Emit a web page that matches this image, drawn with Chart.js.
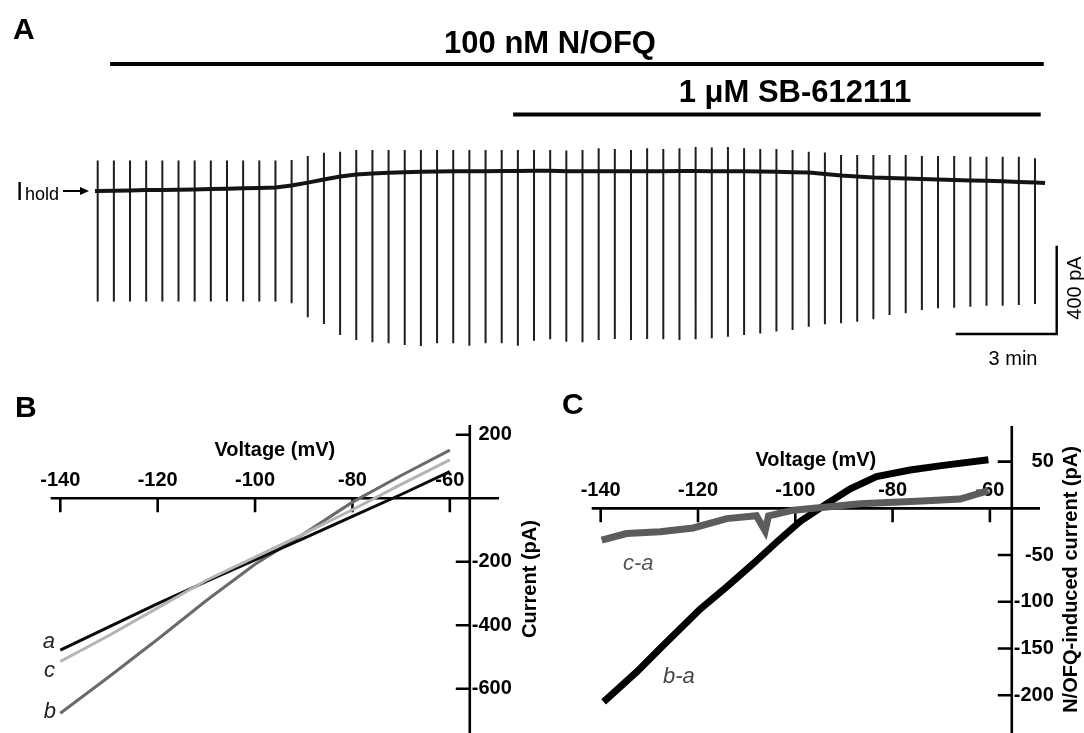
<!DOCTYPE html>
<html>
<head>
<meta charset="utf-8">
<script src="https://cdn.jsdelivr.net/npm/chart.js@4.4.1/dist/chart.umd.min.js"></script>
<style>
html,body{margin:0;padding:0;background:#ffffff;}
#wrap{position:relative;width:1084px;height:733px;overflow:hidden;background:#ffffff;}
#wrap canvas{position:absolute;left:0;top:0;}
</style>
</head>
<body>
<div id="wrap">
<canvas id="cA" width="1084" height="733"></canvas>
<canvas id="cB" width="1084" height="733"></canvas>
<canvas id="cC" width="1084" height="733"></canvas>
</div>
<script>
// ---------------- DATA: panel A (holding-current trace with voltage-ramp sweeps) ----------------
// sweep onset times (min)
const sweepTimes = [0.00,0.48,0.96,1.44,1.92,2.40,2.88,3.36,3.84,4.32,4.80,5.28,5.76,6.24,6.72,7.20,7.68,8.16,8.64,9.12,9.60,10.08,10.56,11.04,11.52,12.00,12.48,12.96,13.44,13.92,14.40,14.88,15.36,15.84,16.32,16.80,17.28,17.76,18.24,18.72,19.20,19.68,20.16,20.64,21.12,21.60,22.08,22.56,23.04,23.52,24.00,24.48,24.96,25.44,25.92,26.40,26.88,27.36,27.84];
// holding current relative to start (pA) at each sweep
const holdCurrent = [0,1,2,4,5,6,7,9,10,12,14,16,25,38,52,66,75,79,83,85,87,88,89,90,90,91,91,92,92,90,90,89,89,89,90,90,91,91,90,90,89,88,87,85,84,77,70,66,61,59,57,54,52,50,48,46,44,41,38];
// upward tip of each ramp sweep (pA)
const rampPeak = [138,138,138,138,138,138,138,138,138,138,138,138,140,159,173,178,186,186,186,186,186,186,186,186,186,186,186,186,186,183,186,194,190,186,194,190,194,199,197,199,194,190,190,186,178,174,163,163,163,163,163,158,158,158,155,155,155,155,148];
// downward tip of each ramp sweep (pA)
const rampTrough = [-500,-500,-500,-500,-500,-500,-500,-500,-500,-500,-500,-500,-509,-572,-602,-652,-675,-685,-690,-698,-702,-690,-690,-701,-690,-690,-701,-678,-672,-683,-685,-675,-670,-675,-670,-672,-675,-672,-667,-660,-652,-645,-637,-630,-615,-604,-599,-592,-581,-562,-554,-539,-531,-529,-524,-520,-520,-516,-512];
const traceStartTime = -0.08, traceEndTime = 28.14;
const traceStartCurrent = 0, traceEndCurrent = 36;
const nofqPeriod = [0.37, 28.10];      // min
const sbPeriod = [12.34, 28.01];       // min
const scaleBarMinutes = 3;
const scaleBarPA = 400;
const sweepLabels = ['a', 'b', 'c'];
const sweepLabelIndex = [0, 24, 57];

// ---------------- DATA: panel B (I-V relations) ----------------
const ivVoltage = [-140,-130,-120,-110,-100,-90,-80,-70,-60];
const ivCurrentA = [-478,-405,-332,-262,-194,-126,-57,12,84];
const ivCurrentB = [-677,-562,-444,-322,-208,-112,-12,72,152];
const ivCurrentC = [-514,-432,-345,-258,-185,-112,-36,44,121];
const ivVoltTicks = [-140,-120,-100,-80,-60];
const ivCurrentTicks = [200,-200,-400,-600];

// ---------------- DATA: panel C (N/OFQ-induced current) ----------------
const diffVoltageBA = [-139.4,-132.6,-127.8,-122.3,-119.6,-114.1,-108.6,-103.8,-99,-93.5,-88.7,-83.3,-76.4,-69.6,-60.3];
const diffCurrentBA = [-207,-175,-150,-122,-108,-84,-59,-36,-14,5,21,34,41,46,52];
const diffVoltageCA = [-139.8,-134.7,-127.8,-121,-114.1,-108,-106.2,-105.5,-100.4,-93.5,-86.7,-79.8,-72.9,-66.1,-60.3];
const diffCurrentCA = [-34,-27,-25,-21,-11,-8,-24,-8,-2,1.5,5,6.5,8,10,19];
const diffVoltTicks = [-140,-120,-100,-80,-60];
const diffCurrentTicks = [50,-50,-100,-150,-200];

// ---------------- layout / style ----------------
const FONT = '"Liberation Sans", Arial, Helvetica, sans-serif';
const layoutA = { nofqBarLevel: 575, sbBarLevel: 347, barCornerTime: 28.485, barCornerPA: -648 };

Chart.defaults.font.family = FONT;

function xy(xs, ys) { return xs.map((v, i) => ({ x: v, y: ys[i] })); }

// generic text plugin (page coordinates)
const textPlugin = {
  id: 'texts',
  afterDraw(chart, args, o) {
    if (!o || !o.items) return;
    const ctx = chart.ctx;
    ctx.save();
    o.items.forEach(t => {
      const it = typeof t === 'function' ? t(chart) : t;
      ctx.save();
      ctx.font = it.font;
      ctx.fillStyle = it.color || '#000';
      ctx.textAlign = it.align || 'left';
      ctx.textBaseline = it.baseline || 'alphabetic';
      ctx.translate(it.x, it.y);
      if (it.rotate) ctx.rotate(it.rotate);
      ctx.fillText(it.text, 0, 0);
      ctx.restore();
    });
    ctx.restore();
  }
};

// crossing axes drawn from the chart's own scales
const crossAxesPlugin = {
  id: 'crossAxes',
  beforeDatasetsDraw(chart, args, o) {
    if (!o || !o.enabled) return;
    const { ctx, chartArea: ca } = chart;
    const xs = chart.scales.x, ys = chart.scales.y;
    const axY = ys.getPixelForValue(o.xAxisAt);
    const axX = xs.getPixelForValue(o.yAxisAt);
    ctx.save();
    ctx.strokeStyle = '#000';
    ctx.lineWidth = 2.6;
    ctx.beginPath();
    ctx.moveTo(ca.left, axY); ctx.lineTo(ca.right, axY);
    ctx.moveTo(axX, ca.top); ctx.lineTo(axX, ca.bottom + 2);
    o.xTicks.forEach(v => { const p = xs.getPixelForValue(v); ctx.moveTo(p, axY); ctx.lineTo(p, axY + o.tickLen); });
    o.yTicks.forEach(v => { const p = ys.getPixelForValue(v); ctx.moveTo(axX, p); ctx.lineTo(axX - o.tickLen, p); });
    ctx.stroke();
    ctx.fillStyle = '#000';
    ctx.font = 'bold 20px ' + FONT;
    ctx.textBaseline = 'middle';
    ctx.textAlign = 'center';
    o.xTicks.forEach(v => ctx.fillText(String(v), xs.getPixelForValue(v), axY - 18));
    ctx.textAlign = 'right';
    o.yTicks.forEach(v => ctx.fillText(String(v), axX + 42, ys.getPixelForValue(v)));
    ctx.textAlign = 'center';
    ctx.fillText(o.xTitle, (ca.left + ca.right) / 2, axY - 48);
    ctx.translate(axX + o.yTitleGap, (ca.top + ca.bottom) / 2);
    ctx.rotate(-Math.PI / 2);
    ctx.fillText(o.yTitle, 0, 0);
    ctx.restore();
  }
};

function baseOptions(padding, xr, yr) {
  return {
    responsive: false,
    animation: false,
    devicePixelRatio: 1,
    events: [],
    layout: { padding },
    plugins: { legend: { display: false }, tooltip: { enabled: false }, title: { display: false } },
    scales: {
      x: { type: 'linear', display: false, min: xr[0], max: xr[1] },
      y: { type: 'linear', display: false, min: yr[0], max: yr[1] }
    },
    elements: { point: { radius: 0 }, line: { tension: 0, borderCapStyle: 'butt' } }
  };
}

// ---------------- Panel A ----------------
const basePts = [{ x: traceStartTime, y: traceStartCurrent }]
  .concat(xy(sweepTimes, holdCurrent))
  .concat([{ x: traceEndTime, y: traceEndCurrent }]);
const spikePts = [];
sweepTimes.forEach((t, i) => {
  spikePts.push({ x: t, y: rampPeak[i] });
  spikePts.push({ x: t, y: rampTrough[i] });
  spikePts.push({ x: t, y: null });
});
const optA = baseOptions({ left: 0, right: 0, top: 0, bottom: 338 }, [-2.902, 29.296], [-924.1, 865.2]);
optA.plugins.texts = {
  items: [
    { text: 'A', x: 13, y: 39, font: 'bold 30px ' + FONT },
    { text: '100 nM N/OFQ', x: 550, y: 53, font: 'bold 31px ' + FONT, align: 'center' },
    { text: '1 \u03BCM SB-612111', x: 795, y: 102, font: 'bold 31px ' + FONT, align: 'center' },
    { text: 'I', x: 16, y: 200, font: '26px ' + FONT },
    { text: 'hold', x: 25, y: 200, font: '18px ' + FONT },
    (c) => ({ text: sweepLabels[0], x: c.scales.x.getPixelForValue(sweepTimes[sweepLabelIndex[0]]) - 1, y: 151, font: 'italic 22px ' + FONT, align: 'center' }),
    (c) => ({ text: sweepLabels[1], x: c.scales.x.getPixelForValue(sweepTimes[sweepLabelIndex[1]]) - 2, y: 143, font: 'italic 22px ' + FONT, align: 'center' }),
    (c) => ({ text: sweepLabels[2], x: c.scales.x.getPixelForValue(sweepTimes[sweepLabelIndex[2]]) + 1, y: 150, font: 'italic 22px ' + FONT, align: 'center' }),
    { text: '400 pA', x: 1075, y: 288, font: '20px ' + FONT, align: 'center', baseline: 'middle', rotate: -Math.PI / 2 },
    { text: '3 min', x: 1013, y: 365, font: '20px ' + FONT, align: 'center' }
  ]
};
const arrowPlugin = {
  id: 'holdArrow',
  afterDraw(chart) {
    const ctx = chart.ctx;
    const y = chart.scales.y.getPixelForValue(holdCurrent[0]);
    ctx.save();
    ctx.strokeStyle = '#000'; ctx.fillStyle = '#000'; ctx.lineWidth = 2;
    ctx.beginPath(); ctx.moveTo(63, y); ctx.lineTo(82, y); ctx.stroke();
    ctx.beginPath(); ctx.moveTo(89, y); ctx.lineTo(80, y - 4); ctx.lineTo(80, y + 4); ctx.closePath(); ctx.fill();
    ctx.restore();
  }
};
new Chart(document.getElementById('cA'), {
  type: 'line',
  data: {
    datasets: [
      { label: 'holding current', data: basePts, borderColor: '#141414', borderWidth: 4, pointRadius: 0 },
      { label: 'ramp sweeps', data: spikePts, borderColor: '#1e1e1e', borderWidth: 2, pointRadius: 0, spanGaps: false },
      { label: '100 nM N/OFQ', data: [{ x: nofqPeriod[0], y: layoutA.nofqBarLevel }, { x: nofqPeriod[1], y: layoutA.nofqBarLevel }], borderColor: '#000', borderWidth: 4, pointRadius: 0 },
      { label: '1 uM SB-612111', data: [{ x: sbPeriod[0], y: layoutA.sbBarLevel }, { x: sbPeriod[1], y: layoutA.sbBarLevel }], borderColor: '#000', borderWidth: 4, pointRadius: 0 },
      { label: 'scale bar', data: [
          { x: layoutA.barCornerTime - scaleBarMinutes, y: layoutA.barCornerPA },
          { x: layoutA.barCornerTime, y: layoutA.barCornerPA },
          { x: layoutA.barCornerTime, y: layoutA.barCornerPA + scaleBarPA }],
        borderColor: '#000', borderWidth: 2.4, pointRadius: 0, borderJoinStyle: 'miter' }
    ]
  },
  options: optA,
  plugins: [textPlugin, arrowPlugin]
});

// ---------------- Panel B ----------------
const optB = baseOptions({ left: 50.7, right: 585, top: 425, bottom: 0 }, [-141.97, -49.9], [-739.2, 230.9]);
optB.plugins.crossAxes = { enabled: true, xAxisAt: 0, yAxisAt: -55.9, xTicks: ivVoltTicks, yTicks: ivCurrentTicks, tickLen: 14, xTitle: 'Voltage (mV)', yTitle: 'Current (pA)', yTitleGap: 61 };
optB.plugins.texts = { items: [
  { text: 'B', x: 15, y: 417, font: 'bold 30px ' + FONT },
  { text: 'a', x: 55, y: 648, font: 'italic 22px ' + FONT, align: 'right', color: '#222' },
  { text: 'c', x: 55, y: 677, font: 'italic 22px ' + FONT, align: 'right', color: '#222' },
  { text: 'b', x: 56, y: 718, font: 'italic 22px ' + FONT, align: 'right', color: '#222' }
] };
new Chart(document.getElementById('cB'), {
  type: 'line',
  data: { datasets: [
    { label: 'c', data: xy(ivVoltage, ivCurrentC), borderColor: '#b4b4b4', borderWidth: 3 },
    { label: 'a', data: xy(ivVoltage, ivCurrentA), borderColor: '#0a0a0a', borderWidth: 3 },
    { label: 'b', data: xy(ivVoltage, ivCurrentB), borderColor: '#6a6a6a', borderWidth: 3 }
  ] },
  options: optB,
  plugins: [crossAxesPlugin, textPlugin]
});

// ---------------- Panel C ----------------
const optC = baseOptions({ left: 591.7, right: 44, top: 426, bottom: 0 }, [-141.85, -49.7], [-240.4, 88.1]);
optC.plugins.crossAxes = { enabled: true, xAxisAt: 0, yAxisAt: -55.5, xTicks: diffVoltTicks, yTicks: diffCurrentTicks, tickLen: 14, xTitle: 'Voltage (mV)', yTitle: 'N/OFQ-induced current (pA)', yTitleGap: 60 };
optC.plugins.texts = { items: [
  { text: 'C', x: 562, y: 414, font: 'bold 30px ' + FONT },
  { text: 'c-a', x: 623, y: 570, font: 'italic 22px ' + FONT, color: '#555' },
  { text: 'b-a', x: 663, y: 683, font: 'italic 22px ' + FONT, color: '#444' }
] };
new Chart(document.getElementById('cC'), {
  type: 'line',
  data: { datasets: [
    { label: 'c-a', data: xy(diffVoltageCA, diffCurrentCA), borderColor: '#5c5c5c', borderWidth: 7 },
    { label: 'b-a', data: xy(diffVoltageBA, diffCurrentBA), borderColor: '#000000', borderWidth: 7 }
  ] },
  options: optC,
  plugins: [crossAxesPlugin, textPlugin]
});
</script>
</body>
</html>
